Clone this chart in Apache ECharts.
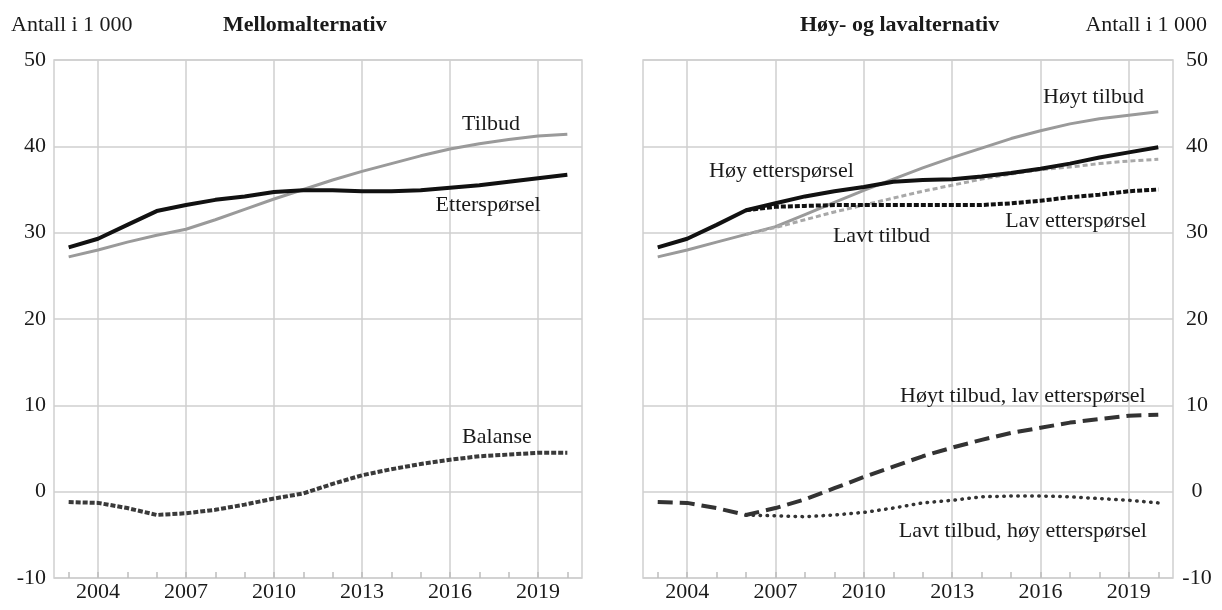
<!DOCTYPE html>
<html>
<head>
<meta charset="utf-8">
<script src="https://cdn.jsdelivr.net/npm/echarts@6/dist/echarts.min.js"></script>
<style>
html,body{margin:0;padding:0;background:#fff;}
#chart{width:1222px;height:610px;}
</style>
</head>
<body>
<div id="chart"></div>
<script>
// ---- data ----
const years = [2003,2004,2005,2006,2007,2008,2009,2010,2011,2012,2013,2014,2015,2016,2017,2018,2019,2020];
const forecastYears = [2006,2007,2008,2009,2010,2011,2012,2013,2014,2015,2016,2017,2018,2019,2020];
const labelYears = [2004,2007,2010,2013,2016,2019];
const yTicks = [-10,0,10,20,30,40,50];

// Left panel: Mellomalternativ
const tilbud        = [27.2,28.0,28.9,29.7,30.4,31.5,32.7,33.9,35.0,36.1,37.1,38.0,38.9,39.7,40.3,40.8,41.2,41.4];
const etterspoersel = [28.3,29.3,30.9,32.5,33.2,33.8,34.2,34.7,34.9,34.9,34.8,34.8,34.9,35.2,35.5,35.9,36.3,36.7];
const balanse       = [-1.2,-1.3,-1.9,-2.7,-2.5,-2.1,-1.5,-0.8,-0.2,0.9,1.9,2.6,3.2,3.7,4.1,4.3,4.5,4.5];

// Right panel: Høy- og lavalternativ
const hoytTilbud      = [27.2,28.0,28.9,29.8,30.7,32.1,33.5,34.9,36.2,37.5,38.7,39.8,40.9,41.8,42.6,43.2,43.6,44.0];
const hoyEtterspoersel= [28.3,29.3,30.9,32.6,33.4,34.2,34.8,35.3,35.9,36.1,36.2,36.5,36.9,37.4,38.0,38.7,39.3,39.9];
const lavtTilbud      = [29.8,30.6,31.5,32.4,33.2,34.0,34.8,35.5,36.2,36.8,37.3,37.6,38.0,38.3,38.5];
const lavEtterspoersel= [32.6,33.0,33.1,33.2,33.2,33.2,33.2,33.2,33.2,33.4,33.7,34.1,34.4,34.8,35.0];
const hoytTilbudLavEtt= [-1.2,-1.3,-1.9,-2.7,-1.9,-0.9,0.4,1.7,2.9,4.1,5.1,6.0,6.8,7.4,8.0,8.4,8.8,8.9];
const lavtTilbudHoyEtt= [-2.7,-2.8,-2.9,-2.7,-2.4,-1.9,-1.3,-1.0,-0.6,-0.5,-0.5,-0.6,-0.8,-1.0,-1.3];

// ---- helpers ----
const pair = (xs, vs) => xs.map((x, i) => [x, vs[i]]);
const FONT = '"Liberation Serif", "DejaVu Serif", serif';
const TXT = '#1a1a1a';
const GRIDC = '#cfcfcf';
const FS = 22;

function tag(text, coord) {
  return {
    symbol: 'circle', symbolSize: 1,
    itemStyle: { color: 'rgba(0,0,0,0)' },
    label: { show: true, position: 'inside', formatter: text, color: TXT, fontFamily: FONT, fontSize: FS },
    data: [{ coord: coord }]
  };
}

const grids = [
  { left: 54, top: 60, width: 528, height: 518, show: true, borderColor: GRIDC, borderWidth: 1.5 },
  { left: 643, top: 60, width: 530, height: 518, show: true, borderColor: GRIDC, borderWidth: 1.5 }
];

function mainX(gi) {
  return {
    type: 'value', gridIndex: gi, min: 2002.5, max: 2020.5, position: 'bottom',
    axisLine: { show: false },
    axisTick: { show: false, customValues: labelYears },
    axisLabel: { customValues: labelYears, formatter: v => String(v), color: TXT, fontFamily: FONT, fontSize: FS, margin: 3 },
    splitLine: { show: true, lineStyle: { color: GRIDC, width: 1.5 } }
  };
}
function minorX(gi) {
  return {
    type: 'value', gridIndex: gi, min: 2002.5, max: 2020.5, position: 'bottom',
    axisLine: { show: false },
    axisTick: { show: true, inside: true, length: 6, customValues: years, lineStyle: { color: '#bdbdbd', width: 1.5 } },
    axisLabel: { show: false },
    splitLine: { show: false }
  };
}
function yAx(gi, pos) {
  return {
    type: 'value', gridIndex: gi, min: -10, max: 50, interval: 10, position: pos,
    axisLine: { show: false }, axisTick: { show: false },
    axisLabel: pos === 'left'
      ? { color: TXT, fontFamily: FONT, fontSize: FS, margin: 8 }
      : { color: TXT, fontFamily: FONT, fontSize: FS, margin: 24, align: 'center' },
    splitLine: { show: true, lineStyle: { color: GRIDC, width: 1.5 } }
  };
}

function line(name, xi, yi, data, style, mp) {
  const s = {
    name, type: 'line', xAxisIndex: xi, yAxisIndex: yi, data,
    showSymbol: false, symbol: 'none', smooth: false, silent: true,
    lineStyle: style
  };
  if (mp) s.markPoint = mp;
  return s;
}

const titleStyle = (bold) => ({ fontFamily: FONT, fontSize: FS, fontWeight: bold ? 'bold' : 'normal', color: TXT });

const option = {
  animation: false,
  backgroundColor: '#fff',
  title: [
    { text: 'Antall i 1 000', left: 6, top: 9, textStyle: titleStyle(false) },
    { text: 'Mellomalternativ', left: 218, top: 9, textStyle: titleStyle(true) },
    { text: 'Høy- og lavalternativ', left: 795, top: 9, textStyle: titleStyle(true) },
    { text: 'Antall i 1 000', right: 10, top: 9, textStyle: titleStyle(false) }
  ],
  grid: grids,
  xAxis: [mainX(0), minorX(0), mainX(1), minorX(1)],
  yAxis: [yAx(0, 'left'), yAx(1, 'right')],
  series: [
    // left panel
    line('Tilbud', 0, 0, pair(years, tilbud), { color: '#9a9a9a', width: 3 }, tag('Tilbud', [2017.4, 42.6])),
    line('Etterspørsel', 0, 0, pair(years, etterspoersel), { color: '#111', width: 4 }, tag('Etterspørsel', [2017.3, 33.2])),
    line('Balanse', 0, 0, pair(years, balanse), { color: '#3a3a3a', width: 4, type: [5, 2] }, tag('Balanse', [2017.6, 6.3])),
    // right panel
    line('Høyt tilbud', 2, 1, pair(years, hoytTilbud), { color: '#9a9a9a', width: 3 }, tag('Høyt tilbud', [2017.8, 45.7])),
    line('Lavt tilbud', 2, 1, pair(forecastYears, lavtTilbud), { color: '#a8a8a8', width: 3, type: [5, 3] }, tag('Lavt tilbud', [2010.6, 29.6])),
    line('Høy etterspørsel', 2, 1, pair(years, hoyEtterspoersel), { color: '#111', width: 4 }, tag('Høy etterspørsel', [2007.2, 37.1])),
    line('Lav etterspørsel', 2, 1, pair(forecastYears, lavEtterspoersel), { color: '#111', width: 4, type: [5, 2] }, tag('Lav etterspørsel', [2017.2, 31.3])),
    line('Høyt tilbud, lav etterspørsel', 2, 1, pair(years, hoytTilbudLavEtt), { color: '#333', width: 4, type: [15, 7] }, tag('Høyt tilbud, lav etterspørsel', [2015.4, 11.1])),
    line('Lavt tilbud, høy etterspørsel', 2, 1, pair(forecastYears, lavtTilbudHoyEtt), { color: '#333', width: 3.5, type: [0.5, 6.5], cap: 'round' }, tag('Lavt tilbud, høy etterspørsel', [2015.4, -4.6]))
  ]
};

const chart = echarts.init(document.getElementById('chart'), null, { renderer: 'canvas' });
chart.setOption(option);
</script>
</body>
</html>
